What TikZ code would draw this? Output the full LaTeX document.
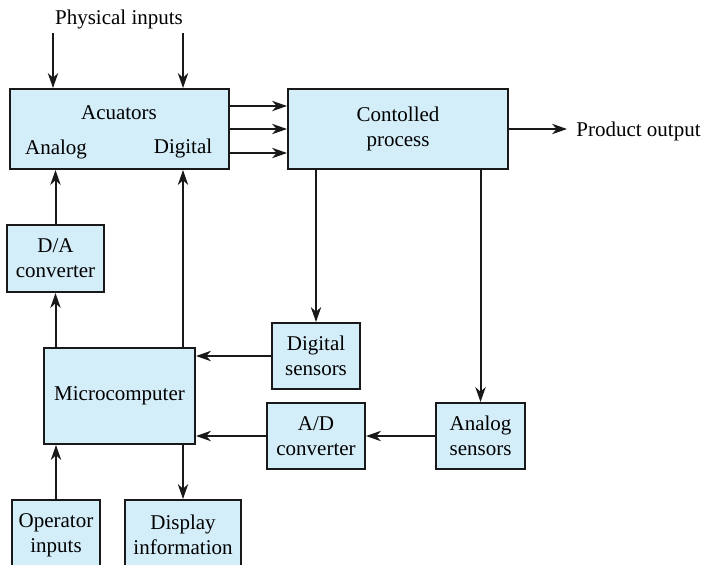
\documentclass[tikz,border=0pt]{standalone}
\usepackage{fontspec}
\setmainfont{Liberation Serif}
\usepackage{xcolor}
\definecolor{boxblue}{HTML}{D3EDF9}
\colorlet{ink}{black!90}
\usetikzlibrary{positioning, arrows.meta}
\tikzset{
  >={Stealth[length=7.5pt,width=5.2pt,inset=2.4pt]},
  blk/.style={draw=ink,line width=1pt,fill=boxblue,inner sep=0,align=center,text=black},
  lbl/.style={inner sep=0,text=black},
  conn/.style={->,ink,line width=1pt}
}

\begin{document}
\begin{tikzpicture}[x=0.5pt,y=-0.5pt, every node/.style={font=\fontsize{10.5}{12.5}\selectfont}]
  \useasboundingbox (0,0) rectangle (704,564);

  % blocks
  \node[blk,minimum width=109.5pt,minimum height=40pt] (act) at (119.5,129) {};
  \node[blk,minimum width=110pt,minimum height=40pt] (ctl) at (398,129) {Contolled\\process};
  \node[blk,minimum width=48.5pt,minimum height=33.5pt] (da) at (55.5,258.5) {D/A\\converter};
  \node[blk,minimum width=75.5pt,minimum height=48pt] (mc) at (119.5,396) {Microcomputer};
  \node[blk,minimum width=44pt,minimum height=33pt] (dsen) at (316,356) {Digital\\sensors};
  \node[blk,minimum width=49pt,minimum height=33pt] (ad) at (316,436) {A/D\\converter};
  \node[blk,minimum width=44.5pt,minimum height=33pt] (asen) at (480.5,436) {Analog\\sensors};
  \node[blk,minimum width=44pt,minimum height=35pt] (op) at (56,535) {Operator\\inputs};
  \node[blk,minimum width=58pt,minimum height=35pt] (disp) at (183,535) {Display\\information};

  % labels
  \node[lbl] (acu) at (119,113) {Acuators};
  \node[lbl] (ana) at (56,149) {Analog};
  \node[lbl] (dig) at (183,148) {Digital};
  \node[lbl] (phys) at (119,19) {Physical inputs};
  \node[lbl,anchor=west] (prod) at (576,131) {Product output};
  \coordinate (pin1) at (53,33);
  \coordinate (pin2) at (183,33);
  \coordinate (pout) at (567,129);

  % arrows
  \draw[conn] (pin1) -- (pin1 |- act.north);
  \draw[conn] (pin2) -- (pin2 |- act.north);
  \foreach \dy in {11.5pt,0pt,-12pt}
    \draw[conn] ([yshift=\dy]act.east) -- ([yshift=\dy]ctl.west);
  \draw[conn] (ctl.east) -- (pout);
  \draw[conn] (dsen.north |- ctl.south) -- (dsen.north);
  \draw[conn] (asen.north |- ctl.south) -- (asen.north);
  \draw[conn] (asen.west) -- (ad.east);
  \draw[conn] (ad.west) -- (ad.west -| mc.east);
  \draw[conn] (dsen.west) -- (dsen.west -| mc.east);
  \draw[conn] (da.south |- mc.north) -- (da.south);
  \draw[conn] (da.north) -- (da.north |- act.south);
  \draw[conn] (dig |- mc.north) -- (dig |- act.south);
  \draw[conn] (op.north) -- (op.north |- mc.south);
  \draw[conn] (disp.north |- mc.south) -- (disp.north);

\end{tikzpicture}
\end{document}
